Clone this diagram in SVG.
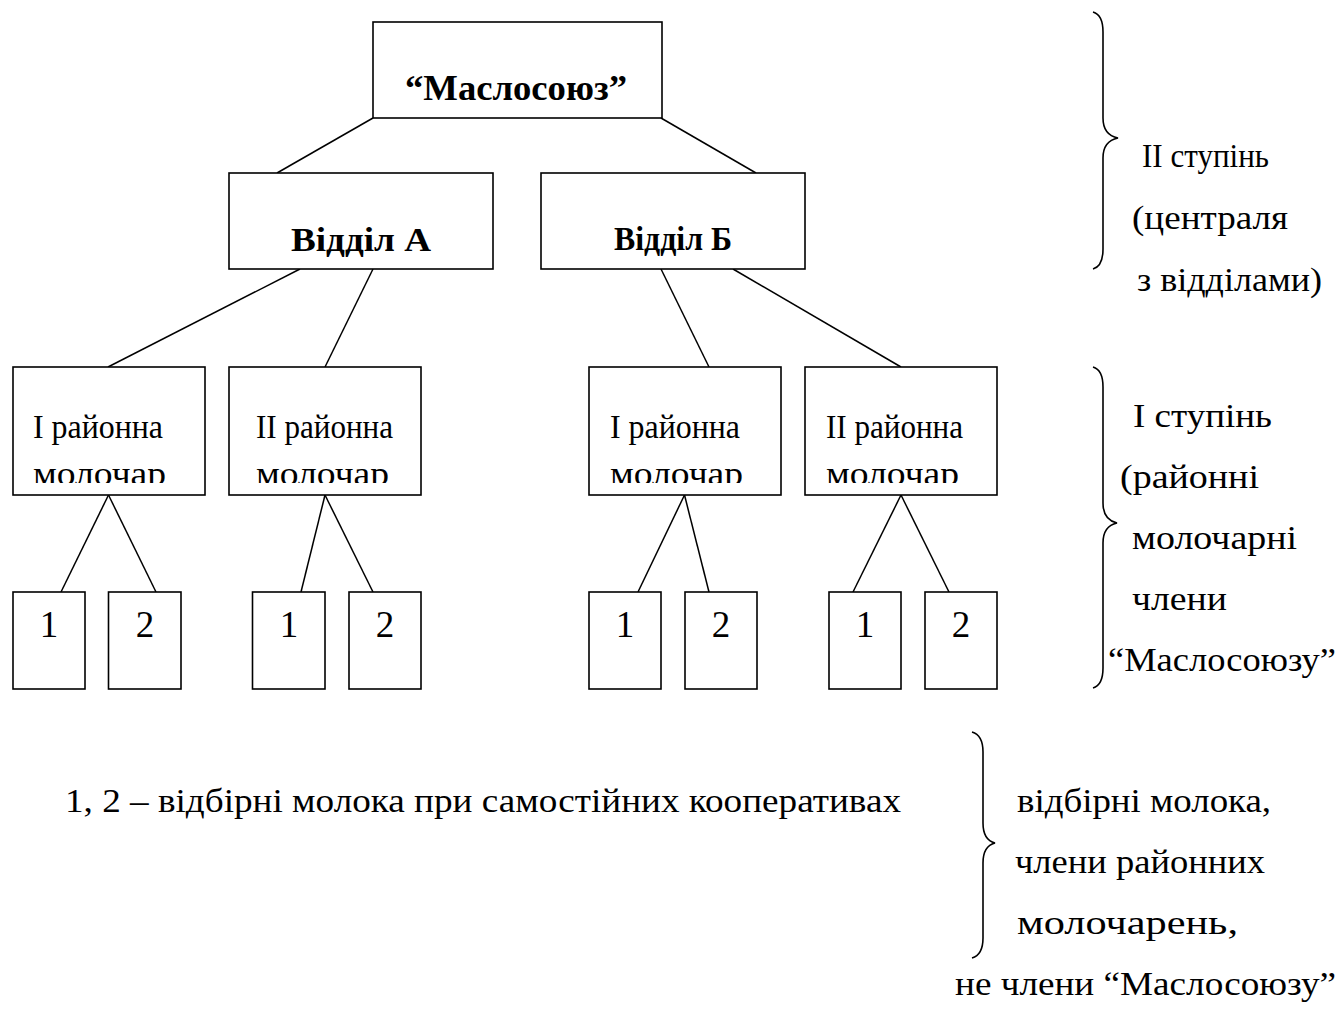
<svg xmlns="http://www.w3.org/2000/svg" width="1341" height="1013" viewBox="0 0 1341 1013">
<style>
.box{fill:#fff;stroke:#000;stroke-width:1.6}
.ln{stroke:#000;stroke-width:1.5;fill:none}
.br{stroke:#000;stroke-width:1.6;fill:none}
text{font-family:"Liberation Serif","Times New Roman",serif;fill:#000}
.b{font-weight:bold}
.top{font-size:35px}
.dep{font-size:34px}
.dist{font-size:33px}
.leaf{font-size:37px;text-anchor:middle}
.side{font-size:33px}
.leg{font-size:33px}
</style>
<defs>
<clipPath id="clipDist" clipPathUnits="userSpaceOnUse"><rect x="0" y="0" width="1341" height="483"/></clipPath>
</defs>
<rect width="1341" height="1013" fill="#fff"/>
<g id="connectors">
<line class="ln" x1="373" y1="118" x2="277" y2="173"/>
<line class="ln" x1="661" y1="118" x2="756" y2="173"/>
<line class="ln" x1="300" y1="269" x2="108" y2="367"/>
<line class="ln" x1="373" y1="269" x2="325" y2="367"/>
<line class="ln" x1="661" y1="269" x2="709" y2="367"/>
<line class="ln" x1="733" y1="269" x2="901" y2="367"/>
<line class="ln" x1="108.5" y1="495" x2="61" y2="592"/>
<line class="ln" x1="108.5" y1="495" x2="156" y2="592"/>
<line class="ln" x1="325" y1="495" x2="301" y2="592"/>
<line class="ln" x1="325" y1="495" x2="373" y2="592"/>
<line class="ln" x1="684.5" y1="495" x2="638" y2="592"/>
<line class="ln" x1="684.5" y1="495" x2="709" y2="592"/>
<line class="ln" x1="901" y1="495" x2="853" y2="592"/>
<line class="ln" x1="901" y1="495" x2="949" y2="592"/>
</g>
<g id="maslosoiuz">
<rect class="box" x="373" y="22" width="289" height="96"/>
<text class="b top" x="405" y="100" textLength="222" lengthAdjust="spacingAndGlyphs">“Маслосоюз”</text>
</g>
<g id="viddil-a">
<rect class="box" x="229" y="173" width="264" height="96"/>
<text class="b dep" x="291" y="251" textLength="140" lengthAdjust="spacingAndGlyphs">Відділ А</text>
</g>
<g id="viddil-b">
<rect class="box" x="541" y="173" width="264" height="96"/>
<text class="b dep" x="614" y="250" textLength="118" lengthAdjust="spacingAndGlyphs">Відділ Б</text>
</g>
<g id="dist-a1">
<rect class="box" x="13" y="367" width="192" height="128"/>
<text class="dist" x="33" y="438" textLength="130" lengthAdjust="spacingAndGlyphs">І районна</text>
<text class="dist" x="33" y="485" clip-path="url(#clipDist)" textLength="133" lengthAdjust="spacingAndGlyphs">молочар</text>
</g>
<g id="dist-a2">
<rect class="box" x="229" y="367" width="192" height="128"/>
<text class="dist" x="256" y="438" textLength="137" lengthAdjust="spacingAndGlyphs">ІІ районна</text>
<text class="dist" x="256" y="485" clip-path="url(#clipDist)" textLength="133" lengthAdjust="spacingAndGlyphs">молочар</text>
</g>
<g id="dist-b1">
<rect class="box" x="589" y="367" width="192" height="128"/>
<text class="dist" x="610" y="438" textLength="130" lengthAdjust="spacingAndGlyphs">І районна</text>
<text class="dist" x="610" y="485" clip-path="url(#clipDist)" textLength="133" lengthAdjust="spacingAndGlyphs">молочар</text>
</g>
<g id="dist-b2">
<rect class="box" x="805" y="367" width="192" height="128"/>
<text class="dist" x="826" y="438" textLength="137" lengthAdjust="spacingAndGlyphs">ІІ районна</text>
<text class="dist" x="826" y="485" clip-path="url(#clipDist)" textLength="133" lengthAdjust="spacingAndGlyphs">молочар</text>
</g>
<g id="leaf-a1-1"><rect class="box" x="13" y="592" width="72" height="97"/><text class="leaf" x="49" y="637">1</text></g>
<g id="leaf-a1-2"><rect class="box" x="108.5" y="592" width="72.5" height="97"/><text class="leaf" x="145" y="637">2</text></g>
<g id="leaf-a2-1"><rect class="box" x="252.5" y="592" width="72.5" height="97"/><text class="leaf" x="289" y="637">1</text></g>
<g id="leaf-a2-2"><rect class="box" x="349" y="592" width="72" height="97"/><text class="leaf" x="385" y="637">2</text></g>
<g id="leaf-b1-1"><rect class="box" x="589" y="592" width="72" height="97"/><text class="leaf" x="625" y="637">1</text></g>
<g id="leaf-b1-2"><rect class="box" x="685" y="592" width="72" height="97"/><text class="leaf" x="721" y="637">2</text></g>
<g id="leaf-b2-1"><rect class="box" x="829" y="592" width="72" height="97"/><text class="leaf" x="865" y="637">1</text></g>
<g id="leaf-b2-2"><rect class="box" x="925" y="592" width="72" height="97"/><text class="leaf" x="961" y="637">2</text></g>
<g id="brace-level2">
<path class="br" d="M1093,12 C1100,14 1103,20 1103,32 L1103,118 C1103,130 1108,136 1118,138 C1108,140 1103,146 1103,158 L1103,249 C1103,261 1100,267 1093,269"/>
<text class="side" x="1142" y="167" textLength="127" lengthAdjust="spacingAndGlyphs">ІІ ступінь</text>
<text class="side" x="1132" y="229" textLength="156" lengthAdjust="spacingAndGlyphs">(централя</text>
<text class="side" x="1137" y="291" textLength="185" lengthAdjust="spacingAndGlyphs">з відділами)</text>
</g>
<g id="brace-level1">
<path class="br" d="M1093,367 C1100,369 1103,375 1103,387 L1103,503 C1103,515 1108,521 1117,523 C1108,525 1103,531 1103,543 L1103,668 C1103,680 1100,686 1093,688"/>
<text class="side" x="1133" y="427" textLength="139" lengthAdjust="spacingAndGlyphs">І ступінь</text>
<text class="side" x="1120" y="488" textLength="139" lengthAdjust="spacingAndGlyphs">(районні</text>
<text class="side" x="1132" y="549" textLength="165" lengthAdjust="spacingAndGlyphs">молочарні</text>
<text class="side" x="1132" y="610" textLength="95" lengthAdjust="spacingAndGlyphs">члени</text>
<text class="side" x="1108" y="671" textLength="228" lengthAdjust="spacingAndGlyphs">“Маслосоюзу”</text>
</g>
<g id="brace-collect">
<path class="br" d="M972,732 C979,734 983,740 983,752 L983,823 C983,835 987,841 995,843 C987,845 983,851 983,863 L983,938 C983,950 979,956 972,958"/>
<text class="side" x="1017" y="812" textLength="254" lengthAdjust="spacingAndGlyphs">відбірні молока,</text>
<text class="side" x="1015" y="873" textLength="250" lengthAdjust="spacingAndGlyphs">члени районних</text>
<text class="side" x="1017" y="934" textLength="221" lengthAdjust="spacingAndGlyphs">молочарень,</text>
<text class="side" x="955" y="995" textLength="381" lengthAdjust="spacingAndGlyphs">не члени “Маслосоюзу”</text>
</g>
<g id="legend">
<text class="leg" x="65" y="812" textLength="836" lengthAdjust="spacingAndGlyphs">1, 2 – відбірні молока при самостійних кооперативах</text>
</g>
</svg>
